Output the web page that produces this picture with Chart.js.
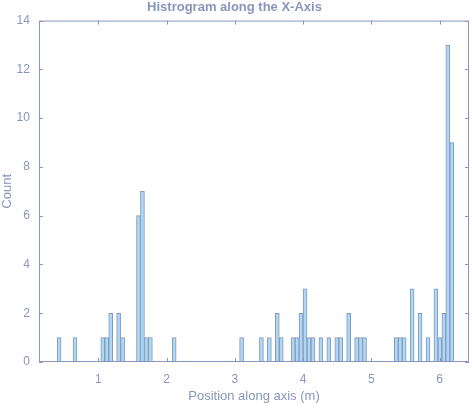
<!DOCTYPE html><html><head><script src="https://cdn.jsdelivr.net/npm/chart.js@4"></script>
<style>html,body{margin:0;background:#fff}#w{width:473px;height:404px}</style></head><body><div id="w"><canvas id="c"></canvas></div><script>
const binStart=0.397, binWidth=0.0581;
const counts=[1,0,0,0,1,0,0,0,0,0, 0,1,1,2,0,2,1,0,0,0, 6,7,1,1,0,0,0,0,0,1, 0,0,0,0,0,0,0,0,0,0, 0,0,0,0,0,0,1,0,0,0, 0,1,0,1,0,2,1,0,0,1, 1,2,3,1,1,0,1,0,1,0, 1,1,0,2,0,1,1,1,0,0, 0,0,0,0,0,1,1,1,0,3, 0,2,0,1,0,3,1,2,13,9];
const xTicks=[1,2,3,4,5,6], yTicks=[0,2,4,6,8,10,12,14];
const pts=counts.map((v,i)=>({x:binStart+binWidth*(i+0.5),y:v}));
const col='#8796bd';
const boxPlugin={id:'box',afterDraw(ch){const c=ch.ctx,a=ch.chartArea,x=ch.scales.x,y=ch.scales.y;c.save();c.strokeStyle=col;c.lineWidth=1;
c.strokeRect(a.left+0.5,a.top+0.5,a.right-a.left-1,a.bottom-a.top-1);
c.beginPath();xTicks.forEach(t=>{const p=Math.round(x.getPixelForValue(t))+0.5;c.moveTo(p,a.bottom);c.lineTo(p,a.bottom-4);c.moveTo(p,a.top);c.lineTo(p,a.top+4);});
yTicks.forEach(t=>{const p=Math.round(y.getPixelForValue(t))+0.5;c.moveTo(a.left,p);c.lineTo(a.left+4,p);c.moveTo(a.right,p);c.lineTo(a.right-4,p);});c.stroke();c.restore();}};
new Chart(document.getElementById('c'),{type:'bar',data:{datasets:[{data:pts,backgroundColor:'#acd8f2',borderColor:col,borderWidth:1,barPercentage:1,categoryPercentage:1,grouped:false}]},
options:{responsive:true,maintainAspectRatio:false,animation:false,layout:{padding:{left:0,right:4,top:0,bottom:0}},
plugins:{legend:{display:false},tooltip:{enabled:false},title:{display:true,text:'Histrogram along the X-Axis',color:col,font:{family:'Liberation Sans',size:13,weight:'bold'},padding:{top:0,bottom:5}}},
scales:{x:{type:'linear',offset:false,min:0.13,max:6.43,afterBuildTicks(s){s.ticks=xTicks.map(v=>({value:v}));},grid:{display:false,offset:false},border:{display:false},
ticks:{color:col,font:{family:'Liberation Sans',size:12},maxRotation:0,padding:2},title:{display:true,text:'Position along axis (m)',color:col,font:{family:'Liberation Sans',size:13},padding:{top:0,bottom:0}}},
y:{min:0,max:14,afterBuildTicks(s){s.ticks=yTicks.map(v=>({value:v}));},grid:{display:false},border:{display:false},
ticks:{color:col,font:{family:'Liberation Sans',size:12},padding:1},title:{display:true,text:'Count',color:col,font:{family:'Liberation Sans',size:13},padding:{top:0,bottom:0}}}}},
plugins:[boxPlugin]});
</script></body></html>
